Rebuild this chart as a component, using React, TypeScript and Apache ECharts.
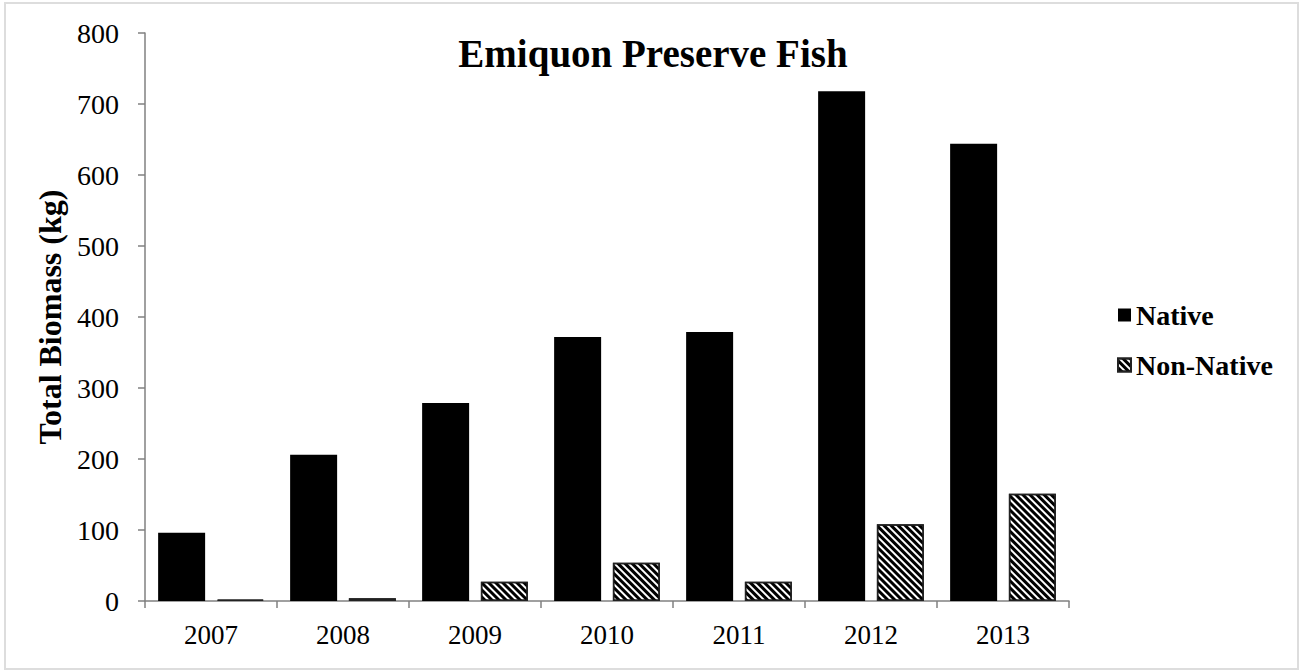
import React, { useEffect, useRef } from "react";
import * as echarts from "echarts";

const years = ["2007", "2008", "2009", "2010", "2011", "2012", "2013"];
const nativeValues = [96, 206, 279, 372, 379, 718, 644];
const nonNativeValues = [2, 4, 27, 54, 27, 108, 151];
const yTicks = [0, 100, 200, 300, 400, 500, 600, 700, 800];

const serif = "'Liberation Serif', 'Times New Roman', serif";

export default function App() {
  const ref = useRef<HTMLDivElement>(null);
  useEffect(() => {
    if (!ref.current) return;
    const chart = echarts.init(ref.current, null, { renderer: "svg" });
    chart.setOption({
      animation: false,
      backgroundColor: "#ffffff",
      title: {
        text: "Emiquon Preserve Fish",
        left: "center",
        top: 29,
        textStyle: { fontFamily: serif, fontSize: 39, fontWeight: "bold", color: "#000" },
      },
      legend: {
        orient: "vertical",
        left: 1112,
        top: 296,
        itemWidth: 13,
        itemHeight: 13,
        itemGap: 22,
        icon: "rect",
        textStyle: { fontFamily: serif, fontSize: 28, fontWeight: "bold", color: "#000" },
        data: ["Native", "Non-Native"],
      },
      grid: { left: 145, right: 237, top: 33, bottom: 70, containLabel: false },
      xAxis: {
        type: "category",
        data: years,
        axisLine: { lineStyle: { color: "#808080", width: 1.5 } },
        axisTick: { show: true, length: 7, lineStyle: { color: "#808080", width: 1.5 } },
        axisLabel: { fontFamily: serif, fontSize: 27, color: "#000", margin: 20 },
      },
      yAxis: {
        type: "value",
        min: 0,
        max: 800,
        interval: 100,
        name: "Total Biomass (kg)",
        nameLocation: "middle",
        nameGap: 78,
        nameTextStyle: { fontFamily: serif, fontSize: 32, fontWeight: "bold", color: "#000" },
        splitLine: { show: false },
        axisLine: { show: true, lineStyle: { color: "#808080", width: 1.5 } },
        axisTick: { show: true, length: 7, lineStyle: { color: "#808080", width: 1.5 } },
        axisLabel: {
          fontFamily: serif,
          fontSize: 28,
          color: "#000",
          margin: 26,
          formatter: (v: number) => (yTicks.includes(v) ? String(v) : ""),
        },
      },
      series: [
        {
          name: "Native",
          type: "bar",
          data: nativeValues,
          barWidth: 47,
          barGap: "25%",
          itemStyle: { color: "#000", borderColor: "#000", borderWidth: 0 },
        },
        {
          name: "Non-Native",
          type: "bar",
          data: nonNativeValues,
          barWidth: 47,
          barGap: "25%",
          itemStyle: {
            color: "#ffffff",
            borderColor: "#222",
            borderWidth: 1.5,
            decal: {
              symbol: "rect",
              symbolSize: 1,
              color: "#000",
              dashArrayX: [1, 0],
              dashArrayY: [2.5, 1.5],
              rotation: Math.PI / 4,
            },
          },
        },
      ],
      graphic: [
        {
          type: "rect",
          shape: { x: 5, y: 3, width: 1293, height: 666 },
          style: { fill: "none", stroke: "#dddddd", lineWidth: 2 },
          silent: true,
        },
      ],
    });
    return () => chart.dispose();
  }, []);
  return (
    <div
      ref={ref}
      style={{ position: "absolute", left: 0, top: 0, width: 1306, height: 671 }}
    />
  );
}
